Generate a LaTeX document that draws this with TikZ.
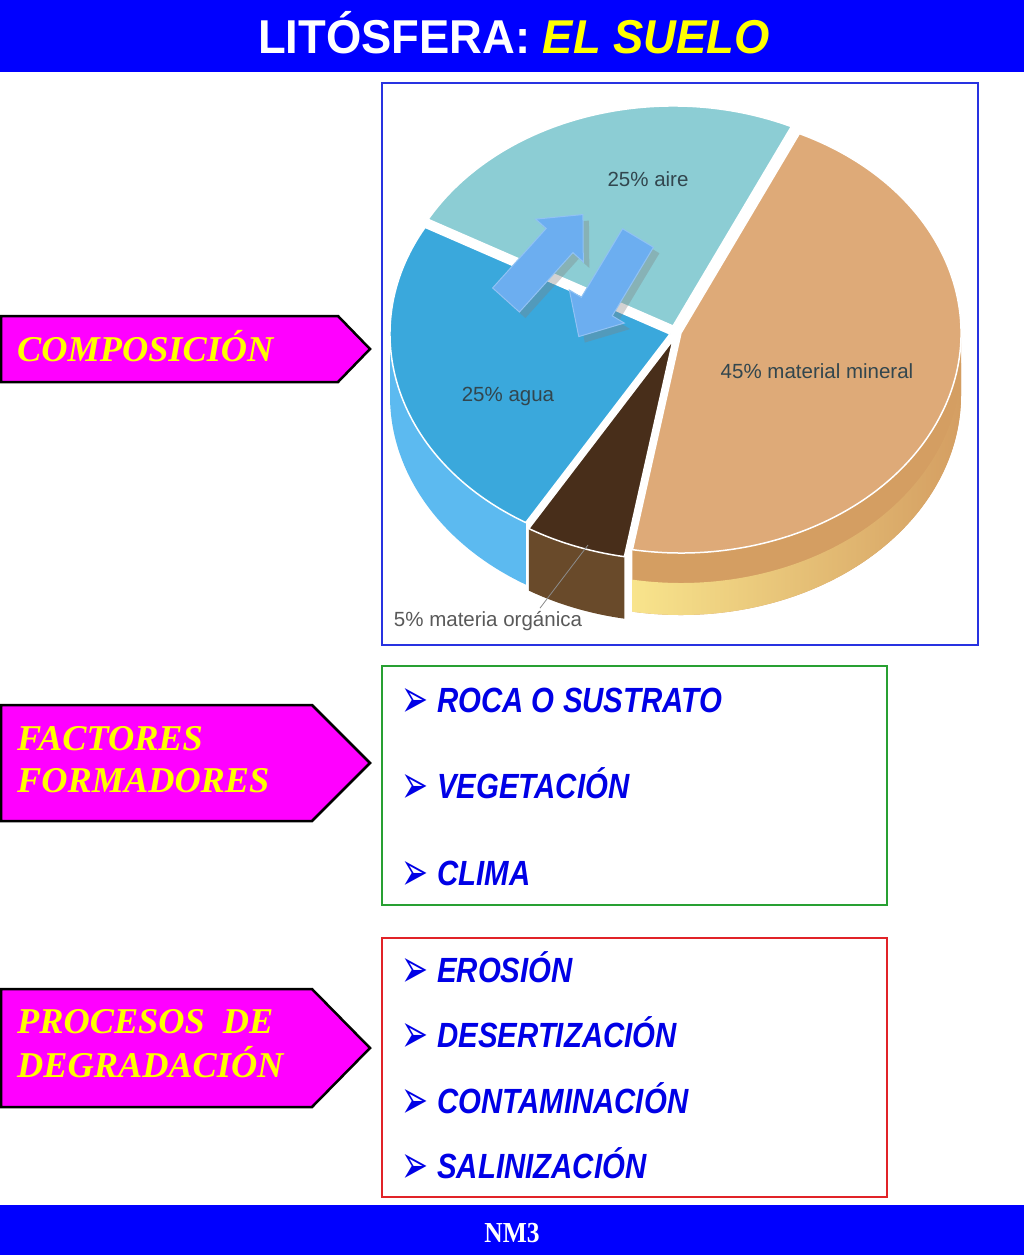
\documentclass[tikz,border=0pt]{standalone}
\usepackage{fontspec}
\usepackage{graphicx}
\usetikzlibrary{shadows}

\newfontfamily\titlefont[FakeStretch=0.955]{Liberation Sans}
\newfontfamily\listfont[FakeStretch=0.84]{Liberation Sans}
\newfontfamily\tagfont{Liberation Serif}
\newfontfamily\footfont[FakeStretch=0.88]{Liberation Serif}
\newfontfamily\piefont{Liberation Sans}
\newfontfamily\bulletfont{DejaVu Sans}

\definecolor{bandblue}{RGB}{0,0,255}
\definecolor{boxblue}{RGB}{40,50,225}
\definecolor{boxgreen}{RGB}{40,160,50}
\definecolor{boxred}{RGB}{225,35,40}
\definecolor{tagpink}{RGB}{255,0,255}
\definecolor{tagyellow}{RGB}{255,255,0}
\definecolor{itemblue}{RGB}{0,0,230}
\definecolor{aire}{RGB}{140,205,212}
\definecolor{agua}{RGB}{58,168,220}
\definecolor{aguaside}{RGB}{92,186,240}
\definecolor{mineral}{RGB}{222,170,120}
\definecolor{mineralside}{RGB}{212,158,98}
\definecolor{mineralbase}{RGB}{248,228,140}
\definecolor{organica}{RGB}{72,46,26}
\definecolor{organicaside}{RGB}{105,74,42}
\definecolor{flecha}{RGB}{108,174,240}
\definecolor{pietext}{RGB}{50,70,78}

\tikzset{
  tagshape/.style={fill=tagpink, draw=black, line width=2.5pt, line join=miter},
  tagtext/.style={anchor=base west, inner sep=0pt, text=tagyellow,
    font=\tagfont\bfseries\itshape\fontsize{36.3}{40}\selectfont},
  itemtext/.style={anchor=base west, inner sep=0pt, text=itemblue,
    font=\listfont\bfseries\itshape\fontsize{35}{40}\selectfont},
  pielabel/.style={inner sep=0pt, text=pietext, font=\piefont\fontsize{20.5}{24}\selectfont},
  piearc/.style={x radius=280, y radius=220},
  sliceedge/.style={draw=white, line width=1.5pt, line join=round},
  flechabox/.style={fill=flecha, draw=flecha!75!white, line width=1pt, line join=miter,
    drop shadow={opacity=0.35, shadow xshift=6pt, shadow yshift=-6pt}},
}

\newcommand{\bul}{{\bulletfont\fontsize{34}{34}\selectfont\raisebox{-5pt}{\scalebox{0.95}[1.6]{➢}}}\hspace{9pt}}

\begin{document}
\begin{tikzpicture}[x=1pt,y=1pt]
        \useasboundingbox (0,0) rectangle (1024,-1255);
        \fill[white] (0,0) rectangle (1024,-1255);

        % title and footer bands
        \fill[bandblue] (0,0) rectangle (1024,-72);
        \node[anchor=base, inner sep=0pt, text=white,
            font=\titlefont\bfseries\fontsize{47.5}{50}\selectfont] (title) at (514,-53)
            {LITÓSFERA: {\itshape\color{tagyellow}EL SUELO}};
        \fill[bandblue] (0,-1205) rectangle (1024,-1255);
        \node[anchor=base, inner sep=0pt, text=white,
            font=\footfont\bfseries\fontsize{29}{30}\selectfont] (nivel) at (512,-1242) {NM3};

        % left tags
        \draw[tagshape] (1,-316) -- (338,-316) -- (370,-349) -- (338,-382) -- (1,-382) -- cycle;
        \node[tagtext] (comp) at (17,-361) {COMPOSICIÓN};

        \draw[tagshape] (1,-705) -- (312,-705) -- (370,-763) -- (312,-821) -- (1,-821) -- cycle;
        \node[tagtext] (facA) at (17,-750) {FACTORES};
        \node[tagtext] (facB) at (17,-792) {FORMADORES};

        \draw[tagshape] (1,-989) -- (312,-989) -- (370,-1048) -- (312,-1107) -- (1,-1107) -- cycle;
        \node[tagtext] (procA) at (17,-1033) {PROCESOS\ \ DE};
        \node[tagtext] (procB) at (17,-1077) {DEGRADACIÓN};

        % pie chart
        \draw[boxblue, line width=1.5pt] (382,-83) rectangle (978,-645);

        \begin{scope}[shift={(670,-334)}]
            \fill[aguaside] (-121:280 and 220) arc[start angle=-121, end angle=-180, piearc]
                -- ++(0,-62) arc[start angle=-180, end angle=-121, piearc] -- cycle;
        \end{scope}
        \begin{scope}[shift={(681,-333)}]
            \fill[mineralside] (0:280 and 220) arc[start angle=0, end angle=-100, piearc]
                -- ++(0,-62) arc[start angle=-100, end angle=0, piearc] -- cycle;
            \shade[left color=mineralbase, right color=mineralside]
                (0,-30) ++(-100:280 and 220) arc[start angle=-100, end angle=0, piearc]
                -- ++(0,-32) arc[start angle=0, end angle=-100, piearc] -- cycle;
        \end{scope}
        \begin{scope}[shift={(673,-340)}]
            \fill[organicaside] (-100:280 and 220) arc[start angle=-100, end angle=-121, piearc]
                -- ++(0,-62) arc[start angle=-121, end angle=-100, piearc] -- cycle;
        \end{scope}

        \begin{scope}[shift={(670,-334)}]
            \filldraw[fill=agua, sliceedge] (0,0) -- (151:280 and 220)
                arc[start angle=151, end angle=239, piearc] -- cycle;
        \end{scope}
        \begin{scope}[shift={(673,-326)}]
            \filldraw[fill=aire, sliceedge] (0,0) -- (151:280 and 220)
                arc[start angle=151, end angle=65, piearc] -- cycle;
        \end{scope}
        \begin{scope}[shift={(681,-333)}]
            \filldraw[fill=mineral, sliceedge] (0,0) -- (65:280 and 220)
                arc[start angle=65, end angle=-100, piearc] -- cycle;
        \end{scope}
        \begin{scope}[shift={(673,-340)}]
            \filldraw[fill=organica, sliceedge] (0,0) -- (-100:280 and 220)
                arc[start angle=-100, end angle=-121, piearc] -- cycle;
        \end{scope}

        % exchange arrows
        \begin{scope}[shift={(506,-300)}, rotate=48]
            \filldraw[flechabox] (0,-18) -- (80,-18) -- (80,-32) -- (115,0)
                -- (80,32) -- (80,18) -- (0,18) -- cycle;
        \end{scope}
        \begin{scope}[shift={(638,-238)}, rotate=-121]
            \filldraw[flechabox] (0,-18) -- (80,-18) -- (80,-32) -- (115,0)
                -- (80,32) -- (80,18) -- (0,18) -- cycle;
        \end{scope}

        \node[pielabel] (lblaire) at (648,-179) {25\% aire};
        \node[pielabel] (lblagua) at (508,-396) {25\% agua};
        \node[pielabel] (lblmineral) at (817,-371) {45\% material mineral};
        \node[pielabel, text=black!65] (lblorganica) at (488,-621) {5\% materia orgánica};
        \coordinate (orgtip) at (588,-545);
        \draw[black!45, line width=0.8pt] ([xshift=52pt,yshift=3pt]lblorganica.north) -- (orgtip);

        % factores
        \draw[boxgreen, line width=1.5pt] (382,-666) rectangle (887,-905);
        \node[itemtext] (roca) at (401,-712) {\bul ROCA O SUSTRATO};
        \node[itemtext] (vege) at (401,-798) {\bul VEGETACIÓN};
        \node[itemtext] (clima) at (401,-885) {\bul CLIMA};

        % procesos
        \draw[boxred, line width=1.5pt] (382,-938) rectangle (887,-1197);
        \node[itemtext] (eros) at (401,-982) {\bul EROSIÓN};
        \node[itemtext] (desert) at (401,-1047) {\bul DESERTIZACIÓN};
        \node[itemtext] (contam) at (401,-1113) {\bul CONTAMINACIÓN};
        \node[itemtext] (salin) at (401,-1178) {\bul SALINIZACIÓN};
\end{tikzpicture}
\end{document}
